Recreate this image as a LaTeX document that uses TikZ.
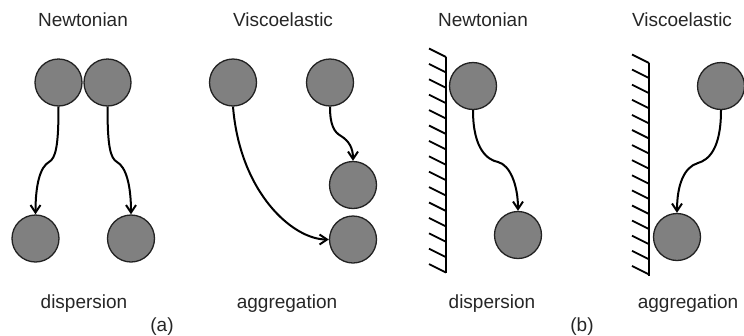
\documentclass[tikz,border=0pt]{standalone}
\usepackage{fontspec}
\setmainfont{Liberation Sans}
\usetikzlibrary{arrows.meta}
\definecolor{ballfill}{HTML}{808080}
\definecolor{balledge}{HTML}{222222}
\tikzset{
  ball/.style={circle, minimum size=47pt, inner sep=0pt, fill=ballfill, draw=balledge, line width=1.3pt},
  flow/.style={line width=2pt, -{Straight Barb[length=7.5pt,width=10pt,line width=2pt]}},
  lbl/.style={anchor=base, font=\fontsize{19}{21}\selectfont, text=black!85},
  wallline/.style={line width=2.1pt},
  hatch/.style={line width=1.8pt}
}
\begin{document}
\begin{tikzpicture}[x=1pt,y=-1pt]
\useasboundingbox (0,0) rectangle (744,335);
% labels
\node[lbl] (t1) at (83,26) {Newtonian};
\node[lbl] (t2) at (283,26) {Viscoelastic};
\node[lbl] (t3) at (483,26) {Newtonian};
\node[lbl] (t4) at (682,26) {Viscoelastic};
\node[lbl] (b1) at (84,308) {dispersion};
\node[lbl] (b2) at (287,308) {aggregation};
\node[lbl] (b3) at (492,308) {dispersion};
\node[lbl] (b4) at (688,308) {aggregation};
\node[lbl] (pa) at (162,331) {(a)};
\node[lbl] (pb) at (582,331) {(b)};
% balls (a)
\node[ball] (n1) at (58.5,82.5) {};
\node[ball] (n2) at (107.5,82.5) {};
\node[ball] (n3) at (35.5,238.5) {};
\node[ball] (n4) at (131,238.5) {};
\node[ball] (v1) at (233,82.5) {};
\node[ball] (v2) at (330,82.5) {};
\node[ball] (v3) at (353,185) {};
\node[ball] (v4) at (353,239.5) {};
% balls (b)
\node[ball] (w1) at (473,86) {};
\node[ball] (w2) at (518,235) {};
\node[ball] (w3) at (721,86) {};
\node[ball] (w4) at (677,237) {};
% walls
\coordinate (wa1) at (446,57);
\coordinate (wa2) at (446,273);
\draw[wallline] (wa1) -- (wa2);
\foreach \k in {0,...,14} {
  \draw[hatch] (446,57+15.4*\k) -- ++(-17,-8.5);
}
\coordinate (wb1) at (649,63);
\coordinate (wb2) at (649,276);
\draw[wallline] (wb1) -- (wb2);
\foreach \k in {0,...,14} {
  \draw[hatch] (649,63+15.1*\k) -- ++(-17,-8.5);
}
% arrows (a)
\draw[flow] (n1.south) .. controls (58.5,145) and (56,158) .. (49,162)
  .. controls (40,167) and (35.5,185) .. (n3.north);
\draw[flow] (n2.south) .. controls (107.5,145) and (110,158) .. (117,162)
  .. controls (126,167) and (131,185) .. (n4.north);
\draw[flow] (v1.south) .. controls (240,193) and (293,239.5) .. (v4.west);
\draw[flow] (v2.south) .. controls (330,125) and (334,132) .. (341,136)
  .. controls (349,141) and (353,148) .. (v3.north);
% arrows (b)
\draw[flow] (w1.south) .. controls (473,150) and (488,160) .. (498,162)
  .. controls (510,165) and (518,185) .. (w2.north);
\draw[flow] (w3.south) .. controls (721,150) and (708,160) .. (698,163)
  .. controls (684,167) and (677,185) .. (w4.north);
\end{tikzpicture}
\end{document}
